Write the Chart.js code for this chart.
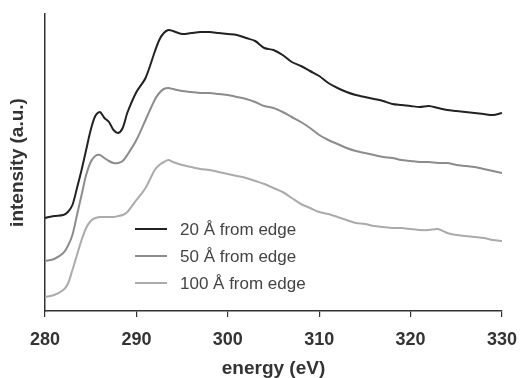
<!DOCTYPE html>
<html>
<head>
<meta charset="utf-8">
<script src="https://cdn.jsdelivr.net/npm/chart.js@4"></script>
<style>
  html, body { margin: 0; padding: 0; background: #fff; }
  #wrap { width: 520px; height: 378px; position: relative; }
</style>
</head>
<body>
<div id="wrap"><canvas id="chart" width="520" height="378"></canvas></div>
<script>
// energy points (eV)
const energy = [280, 281, 282, 282.5, 283, 283.5, 284, 284.5, 285, 285.5, 286, 286.5, 287, 287.5, 288, 288.5, 289,
  290, 291, 292, 292.5, 293, 293.5, 294, 295, 296, 297, 298, 299, 300, 301, 302, 303, 304, 305, 306, 307, 308, 309,
  310, 311, 312, 313, 314, 315, 316, 317, 318, 319, 320, 321, 322, 323, 324, 325, 326, 327, 328, 329, 330];

// intensity (a.u.), curves already offset as in the figure
const edge20 = [93, 95, 96, 99, 106, 123, 141, 161, 181, 195, 199, 193, 189, 181, 178, 183, 198,
  219, 233, 259, 271, 278, 281, 280, 277, 278, 279, 279, 278, 277, 276, 273, 270, 263, 261, 256, 249, 245, 240,
  235, 228, 223, 219, 216, 214, 212, 210, 207, 206, 205, 204, 205, 203, 201, 200, 199, 198, 197, 196, 198];

const edge50 = [50, 52, 58, 65, 76, 96, 116, 136, 149, 155, 156, 153, 150, 148, 148, 150, 156,
  171, 191, 211, 218, 222, 223, 222, 220, 219, 218, 218, 217, 216, 214, 212, 209, 205, 203, 199, 194, 189, 183,
  176, 171, 167, 163, 160, 158, 156, 154, 153, 151, 150, 149, 149, 148, 148, 146, 145, 144, 142, 140, 138];

const edge100 = [14, 16, 21, 27, 41, 56, 71, 83, 90, 93, 94, 94, 94, 94, 95, 96, 99,
  111, 123, 141, 146, 149, 151, 149, 146, 144, 142, 141, 139, 137, 135, 133, 130, 127, 123, 119, 113, 107, 103,
  99, 97, 94, 91, 88, 87, 85, 84, 83, 83, 82, 81, 81, 82, 78, 76, 75, 74, 73, 71, 70];

const seriesNames = ["20 Å from edge", "50 Å from edge", "100 Å from edge"];
const seriesColors = ["#222222", "#8c8c8c", "#ababab"];
const xTicks = [280, 290, 300, 310, 320, 330];

const toPoints = vals => vals.map((v, i) => ({ x: energy[i], y: v }));

// legend drawn inside the plot, lower left
const insideLegend = {
  id: "insideLegend",
  afterDraw(chart) {
    const ctx = chart.ctx;
    const area = chart.chartArea;
    ctx.save();
    ctx.font = "17px 'Liberation Sans', Arial, sans-serif";
    ctx.textBaseline = "middle";
    chart.data.datasets.forEach((ds, i) => {
      const y = area.top + 215 + i * 27;
      const x0 = area.left + 90;
      ctx.strokeStyle = ds.borderColor;
      ctx.lineWidth = 2;
      ctx.beginPath();
      ctx.moveTo(x0, y);
      ctx.lineTo(x0 + 32, y);
      ctx.stroke();
      ctx.fillStyle = "#444";
      ctx.fillText(ds.label, x0 + 45, y + 1);
    });
    ctx.restore();
  }
};

const ctx = document.getElementById("chart").getContext("2d");
new Chart(ctx, {
  type: "line",
  data: {
    datasets: [edge20, edge50, edge100].map((vals, i) => ({
      label: seriesNames[i],
      data: toPoints(vals),
      borderColor: seriesColors[i],
      borderWidth: 2,
      pointRadius: 0,
      tension: 0.3,
      fill: false
    }))
  },
  options: {
    responsive: false,
    animation: false,
    layout: { padding: { top: 14, right: 18, left: 0, bottom: 0 } },
    plugins: { legend: { display: false }, tooltip: { enabled: false } },
    scales: {
      x: {
        type: "linear",
        min: 280,
        max: 330,
        afterBuildTicks: scale => { scale.ticks = xTicks.map(v => ({ value: v })); },
        afterFit: scale => {
          scale.height = 67;
          scale.paddingLeft = 0;
          scale.paddingRight = 0;
        },
        grid: { drawOnChartArea: false, drawTicks: true, tickLength: 6, color: "#333", lineWidth: 1.2 },
        border: { color: "#333", width: 1.5 },
        ticks: {
          color: "#333",
          padding: 12,
          font: { family: "'Liberation Sans', Arial, sans-serif", size: 18, weight: "bold" }
        },
        title: {
          display: true,
          text: "energy (eV)",
          color: "#333",
          padding: { top: 4, bottom: -2 },
          font: { family: "'Liberation Sans', Arial, sans-serif", size: 19, weight: "bold" }
        }
      },
      y: {
        min: 0,
        max: 297,
        afterFit: scale => { scale.width = 45; },
        grid: { display: false },
        border: { color: "#333", width: 1.5 },
        ticks: { display: false },
        title: {
          display: true,
          text: "intensity (a.u.)",
          color: "#333",
          padding: { top: 6, bottom: 0 },
          font: { family: "'Liberation Sans', Arial, sans-serif", size: 19, weight: "bold" }
        }
      }
    }
  },
  plugins: [insideLegend]
});
</script>
</body>
</html>
